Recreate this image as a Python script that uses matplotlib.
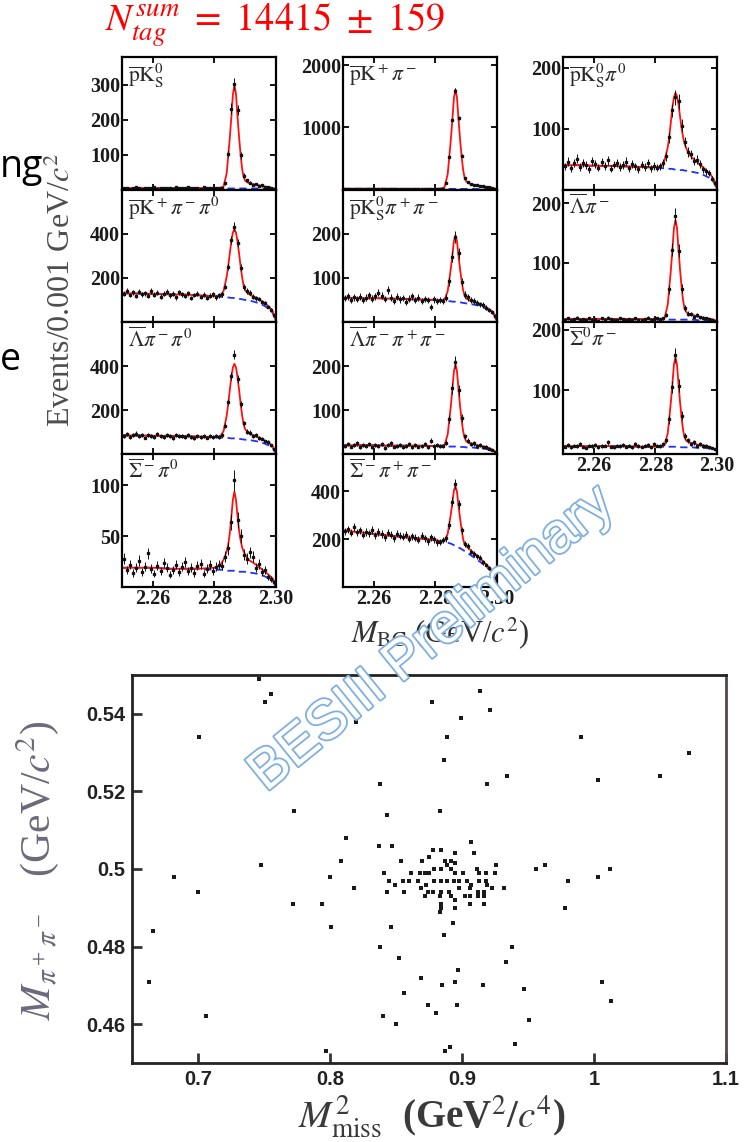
import numpy as np
import matplotlib
matplotlib.use("Agg")
import matplotlib.pyplot as plt
import matplotlib.patheffects as pe

plt.rcParams['mathtext.fontset'] = 'stix'
plt.rcParams['font.family'] = ['Liberation Serif', 'DejaVu Sans']

W, H = 750, 1142

# M_BC histogram bins: 0.001 GeV/c^2 from 2.25 to 2.30
mbc = np.linspace(2.2505, 2.2995, 50)

fit_x = [2.250, 2.255, 2.260, 2.265, 2.270, 2.275, 2.280, 2.281, 2.282, 2.283,
         2.284, 2.2845, 2.285, 2.2855, 2.286, 2.2865, 2.287, 2.2875, 2.288, 2.2885,
         2.289, 2.2895, 2.290, 2.291, 2.292, 2.294, 2.296, 2.298, 2.299, 2.300]

# pbar K_S0
data_A = [3, 5, 2, 4, 6, 3, 2, 5, 4, 3, 6, 2, 4, 5, 3, 4, 2, 6, 5, 3, 4, 7, 3, 5, 4, 2, 6, 4, 3, 5,
          4, 4, 5, 18, 102, 232, 302, 228, 98, 40, 26, 20, 14, 16, 10, 12, 7, 8, 5, 2]
bkg_A = [4, 4, 4, 4, 4, 4, 4, 4, 4, 3, 3, 3, 3, 3, 3, 3, 3, 3, 3, 3, 3, 3, 3, 3, 3, 3, 2, 2, 1, 0]
fit_A = [4, 4, 4, 4, 4, 4, 4, 4, 5, 9, 47, 98, 148, 207, 272, 299, 275, 210, 151, 101,
         59, 36, 25, 19, 16, 13, 9, 6, 4, 1]

# pbar K+ pi- pi0
data_B = [128, 141, 122, 135, 118, 137, 126, 131, 119, 140, 124, 133, 115, 129, 138, 121, 127, 112, 134, 125,
          118, 130, 109, 122, 127, 113, 124, 108, 119, 126, 112, 121, 125, 160, 250, 372, 432, 358, 246, 158,
          140, 132, 114, 107, 104, 90, 86, 70, 55, 32]
bkg_B = [130, 129, 127, 125, 124, 121, 117, 116, 114, 113, 112, 111, 110, 109, 109, 108, 107, 106, 105, 104,
         103, 101, 100, 97, 95, 87, 75, 57, 40, 0]
fit_B = [130, 129, 127, 125, 124, 121, 117, 117, 120, 141, 206, 255, 311, 365, 405, 420, 405, 365, 311, 254,
         203, 163, 144, 128, 120, 106, 89, 66, 46, 2]

# Lambdabar pi- pi0
data_C = [84, 90, 78, 86, 93, 80, 85, 75, 88, 82, 79, 91, 84, 77, 86, 81, 74, 88, 80, 83,
          76, 85, 79, 72, 84, 78, 81, 75, 83, 77, 80, 79, 85, 128, 236, 355, 452, 340, 228, 140,
          102, 97, 84, 85, 72, 70, 58, 55, 40, 23]
bkg_C = [85, 84, 83, 82, 81, 79, 77, 76, 75, 74, 73, 73, 72, 71, 71, 71, 70, 69, 69, 68,
         67, 66, 65, 64, 62, 57, 49, 37, 26, 0]
fit_C = [85, 84, 83, 82, 81, 79, 77, 77, 82, 105, 175, 229, 291, 349, 393, 410, 394, 350, 293, 231,
         175, 134, 112, 98, 89, 77, 64, 47, 33, 3]

# Sigmabar- pi0
data_D = [28, 17, 22, 14, 19, 26, 15, 20, 33, 18, 13, 21, 16, 24, 19, 12, 17, 22, 15, 20,
          25, 16, 19, 14, 21, 23, 13, 18, 22, 16, 20, 22, 21, 30, 38, 64, 105, 66, 50, 32,
          28, 34, 30, 19, 23, 15, 17, 10, 8, 5]
bkg_D = [19, 19, 19, 18, 18, 18, 17, 17, 17, 17, 16, 16, 16, 16, 16, 16, 16, 15, 15, 15,
         15, 15, 15, 14, 14, 13, 11, 8, 6, 0]
fit_D = [19, 19, 19, 18, 18, 18, 19, 20, 22, 27, 35, 42, 53, 69, 86, 94, 86, 70, 56, 46,
         39, 35, 32, 27, 25, 21, 16, 11, 8, 1]

# pbar K+ pi-
data_E = [10, 14, 9, 13, 12, 16, 11, 8, 13, 12, 15, 10, 12, 9, 14, 11, 13, 10, 8, 12,
          11, 14, 9, 10, 12, 8, 11, 13, 9, 10, 12, 11, 16, 98, 530, 1120, 1590, 1150, 545, 190,
          118, 85, 72, 68, 55, 50, 38, 34, 22, 12]
bkg_E = [12, 12, 12, 12, 11, 11, 11, 11, 11, 10, 10, 10, 10, 10, 10, 10, 10, 10, 10, 10,
         9, 9, 9, 9, 9, 8, 7, 5, 4, 0]
fit_E = [12, 12, 12, 12, 11, 11, 11, 13, 17, 42, 250, 522, 794, 1114, 1466, 1610, 1482, 1130, 810, 538,
         314, 185, 129, 97, 81, 61, 45, 29, 20, 6]

# pbar K_S0 pi+ pi-
data_F = [54, 58, 50, 56, 52, 57, 49, 55, 61, 53, 58, 66, 60, 52, 72, 55, 48, 57, 51, 54,
          46, 53, 58, 50, 55, 47, 52, 49, 34, 51, 48, 49, 48, 55, 92, 148, 192, 156, 90, 62,
          56, 50, 47, 44, 40, 39, 32, 27, 22, 14]
bkg_F = [55, 54, 54, 53, 52, 51, 50, 49, 48, 48, 47, 47, 47, 46, 46, 46, 45, 45, 45, 44,
         43, 43, 42, 41, 40, 37, 32, 24, 17, 0]
fit_F = [55, 54, 54, 53, 52, 51, 50, 49, 49, 51, 70, 95, 121, 150, 183, 196, 183, 150, 120, 94,
         72, 60, 53, 49, 47, 42, 36, 26, 19, 1]

# Lambdabar pi- pi+ pi-
data_G = [18, 22, 17, 21, 24, 16, 20, 19, 23, 15, 21, 18, 22, 14, 20, 24, 17, 19, 21, 16,
          18, 23, 15, 20, 17, 19, 22, 16, 30, 18, 20, 19, 18, 26, 80, 150, 210, 145, 82, 40,
          30, 22, 24, 19, 20, 15, 16, 12, 9, 5]
bkg_G = [20, 20, 20, 19, 19, 19, 18, 18, 18, 17, 17, 17, 17, 17, 17, 17, 16, 16, 16, 16,
         16, 16, 15, 15, 15, 13, 12, 9, 6, 0]
fit_G = [20, 20, 20, 19, 19, 19, 18, 18, 19, 21, 45, 77, 109, 147, 188, 205, 189, 148, 110, 78,
         52, 37, 29, 25, 23, 19, 17, 12, 8, 1]

# Sigmabar- pi+ pi-
data_H = [232, 241, 226, 250, 228, 236, 219, 230, 224, 238, 215, 229, 221, 207, 226, 218, 204, 222, 213, 209,
          218, 201, 211, 205, 198, 214, 203, 190, 208, 199, 186, 188, 196, 203, 258, 356, 430, 345, 236, 180,
          170, 148, 138, 128, 122, 104, 92, 80, 60, 38]
bkg_H = [236, 229, 222, 214, 208, 202, 195, 193, 191, 188, 185, 183, 181, 178, 175, 172, 169, 165, 162, 158,
         154, 150, 146, 137, 128, 110, 90, 68, 50, 0]
fit_H = [236, 229, 222, 214, 208, 202, 195, 193, 192, 193, 222, 263, 303, 350, 402, 421, 398, 339, 287, 240,
         201, 177, 171, 159, 147, 126, 100, 74, 52, 1]

# pbar K_S0 pi0
data_I = [38, 46, 35, 43, 51, 37, 44, 40, 33, 47, 42, 36, 45, 39, 48, 34, 41, 44, 37, 40,
          46, 35, 42, 38, 33, 41, 37, 43, 35, 39, 36, 38, 44, 55, 86, 130, 152, 145, 105, 78,
          62, 58, 47, 49, 42, 33, 30, 27, 18, 10]
bkg_I = [40, 40, 39, 39, 38, 37, 36, 36, 35, 35, 34, 34, 34, 34, 33, 33, 33, 33, 32, 32,
         32, 31, 31, 30, 29, 27, 23, 18, 12, 0]
fit_I = [40, 40, 39, 39, 38, 37, 37, 37, 39, 48, 69, 87, 110, 135, 151, 159, 154, 140, 120, 101,
         86, 75, 68, 58, 52, 43, 34, 24, 16, 1]

# Lambdabar pi-
data_J = [4, 6, 3, 5, 7, 4, 5, 3, 6, 4, 5, 2, 6, 4, 7, 5, 3, 4, 6, 5,
          3, 5, 4, 6, 4, 3, 5, 7, 4, 5, 6, 5, 6, 12, 55, 122, 178, 120, 56, 24,
          14, 13, 9, 11, 8, 7, 6, 5, 3, 2]
bkg_J = [5, 5, 5, 5, 5, 5, 5, 4, 4, 4, 4, 4, 4, 4, 4, 4, 4, 4, 4, 4, 4, 4, 4, 4, 4, 3, 3, 2, 2, 0]
fit_J = [5, 5, 5, 5, 5, 5, 5, 4, 5, 7, 29, 58, 86, 120, 157, 172, 159, 122, 88, 59,
         36, 22, 17, 13, 12, 9, 7, 5, 4, 1]

# Sigmabar0 pi-
data_K = [7, 10, 6, 9, 8, 12, 7, 5, 9, 8, 10, 6, 8, 9, 14, 7, 6, 9, 8, 10,
          7, 9, 6, 11, 8, 7, 9, 10, 6, 12, 9, 8, 11, 18, 52, 106, 158, 108, 58, 25,
          18, 12, 14, 9, 11, 8, 9, 6, 5, 3]
bkg_K = [8, 8, 8, 8, 8, 7, 7, 7, 7, 7, 7, 7, 7, 7, 7, 7, 7, 7, 7, 6, 6, 6, 6, 6, 6, 5, 5, 4, 2, 0]
fit_K = [8, 8, 8, 8, 8, 7, 7, 7, 8, 10, 29, 54, 80, 109, 142, 155, 143, 111, 81, 55,
         34, 22, 17, 14, 13, 10, 9, 6, 3, 1]

# (column, row, label, data, fit, bkg, ylim, yticks)
panels = [
    (0, 0, r'$\overline{\mathrm{p}}\mathrm{K}^0_\mathrm{S}$', data_A, fit_A, bkg_A, (0, 380), [100, 200, 300]),
    (0, 1, r'$\overline{\mathrm{p}}\mathrm{K}^+\pi^-\pi^0$', data_B, fit_B, bkg_B, (0, 600), [200, 400]),
    (0, 2, r'$\overline{\Lambda}\pi^-\pi^0$', data_C, fit_C, bkg_C, (0, 600), [200, 400]),
    (0, 3, r'$\overline{\Sigma}^-\pi^0$', data_D, fit_D, bkg_D, (0, 131), [50, 100]),
    (1, 0, r'$\overline{\mathrm{p}}\mathrm{K}^+\pi^-$', data_E, fit_E, bkg_E, (0, 2130), [1000, 2000]),
    (1, 1, r'$\overline{\mathrm{p}}\mathrm{K}^0_\mathrm{S}\pi^+\pi^-$', data_F, fit_F, bkg_F, (0, 300), [100, 200]),
    (1, 2, r'$\overline{\Lambda}\pi^-\pi^+\pi^-$', data_G, fit_G, bkg_G, (0, 301), [100, 200]),
    (1, 3, r'$\overline{\Sigma}^-\pi^+\pi^-$', data_H, fit_H, bkg_H, (0, 555), [200, 400]),
    (2, 0, r'$\overline{\mathrm{p}}\mathrm{K}^0_\mathrm{S}\pi^0$', data_I, fit_I, bkg_I, (0, 218), [100, 200]),
    (2, 1, r'$\overline{\Lambda}\pi^-$', data_J, fit_J, bkg_J, (0, 223), [100, 200]),
    (2, 2, r'$\overline{\Sigma}^0\pi^-$', data_K, fit_K, bkg_K, (-5, 213), [100, 200]),
]
last_row = {0: 3, 1: 3, 2: 2}

# M^2_miss vs M_pi+pi- candidates
miss2 = [0.746, 0.755, 0.751, 0.701, 0.820, 0.838, 0.773, 0.843, 0.812, 0.837, 0.847, 0.808, 0.748,
         0.682, 0.800, 0.818, 0.700, 0.841, 0.845, 0.849, 0.843, 0.772, 0.794, 0.801, 0.846, 0.666,
         0.838, 0.852, 0.663, 0.706, 0.840, 0.850, 0.797,
         0.914, 0.877, 0.921, 0.899, 0.889, 0.990, 1.072, 0.886, 0.934, 1.050, 1.003, 0.919, 0.883,
         0.907, 0.878, 0.884, 0.895, 0.909, 0.854, 0.956, 0.963, 1.012, 0.980, 1.003, 0.978, 0.932,
         0.923, 0.893, 0.886, 0.938, 0.933, 0.897, 0.869, 0.885, 0.895, 0.916, 1.006, 0.947, 0.856,
         1.013, 0.896, 0.874, 0.880, 0.951, 0.940, 0.891, 0.887,
         0.870, 0.875, 0.887, 0.892, 0.895, 0.926,
         0.861, 0.868, 0.872, 0.875, 0.879, 0.884, 0.889, 0.892, 0.895, 0.901, 0.911, 0.913, 0.918, 0.925,
         0.855, 0.860, 0.867, 0.873, 0.879, 0.884, 0.889, 0.894, 0.898, 0.904, 0.907, 0.913, 0.918, 0.919,
         0.856, 0.869, 0.874, 0.878, 0.884, 0.890, 0.898, 0.906, 0.912, 0.917,
         0.872, 0.883, 0.892, 0.902, 0.906, 0.912, 0.917,
         0.884, 0.895, 0.906, 0.917, 0.884, 0.895, 0.883]
mpipi = [0.549, 0.545, 0.543, 0.534, 0.538, 0.522, 0.515, 0.514, 0.508, 0.506, 0.506, 0.502, 0.501,
         0.498, 0.498, 0.495, 0.494, 0.499, 0.497, 0.496, 0.494, 0.491, 0.491, 0.485, 0.485, 0.484,
         0.480, 0.477, 0.471, 0.462, 0.462, 0.460, 0.453,
         0.546, 0.543, 0.541, 0.539, 0.534, 0.534, 0.530, 0.528, 0.524, 0.524, 0.523, 0.522, 0.515,
         0.507, 0.505, 0.505, 0.504, 0.504, 0.502, 0.500, 0.501, 0.500, 0.497, 0.498, 0.490, 0.495,
         0.495, 0.486, 0.483, 0.480, 0.476, 0.474, 0.472, 0.470, 0.471, 0.470, 0.471, 0.469, 0.468,
         0.466, 0.465, 0.465, 0.463, 0.461, 0.455, 0.454, 0.453,
         0.502, 0.503, 0.502, 0.502, 0.5015, 0.501,
         0.499, 0.499, 0.499, 0.499, 0.500, 0.500, 0.501, 0.500, 0.499, 0.499, 0.500, 0.499, 0.499, 0.499,
         0.497, 0.497, 0.497, 0.496, 0.497, 0.497, 0.497, 0.497, 0.497, 0.497, 0.496, 0.497, 0.497, 0.496,
         0.494, 0.495, 0.494, 0.494, 0.494, 0.494, 0.495, 0.495, 0.494, 0.494,
         0.493, 0.493, 0.493, 0.493, 0.493, 0.493, 0.493,
         0.491, 0.492, 0.491, 0.491, 0.490, 0.490, 0.489]


def rect(x0, y0, x1, y1):
    return [x0 / W, 1 - y1 / H, (x1 - x0) / W, (y1 - y0) / H]


fig = plt.figure(figsize=(W / 100, H / 100), dpi=100)
fig.patch.set_facecolor('white')

col_x = [122, 343, 563]
row_y = [57, 189.5, 322, 454, 587]
tick_font = dict(family='Liberation Serif', fontweight='bold', fontsize=14.5, color='#1a1a1a')

for col, row, label, data, fit, bkg, ylim, yticks in panels:
    ax = fig.add_axes(rect(col_x[col], row_y[row], col_x[col] + 154, row_y[row + 1]))
    ax.plot(fit_x, bkg, color='#2030ff', lw=1.3, ls=(0, (4, 2.5)))
    ax.plot(fit_x, fit, color='#ff1010', lw=1.3)
    ax.errorbar(mbc, data, yerr=np.sqrt(data), fmt='s', ms=1.8, color='#111111',
                elinewidth=0.7, capsize=0, zorder=3)
    ax.set_xlim(2.25, 2.30)
    ax.set_ylim(*ylim)
    ax.set_xticks([2.26, 2.28, 2.30])
    ax.set_xticklabels(['2.26', '2.28', '2.30'], **tick_font)
    ax.set_yticks(yticks)
    ax.set_yticklabels([str(v) for v in yticks], **tick_font)
    ax.tick_params(direction='in', top=True, right=True, length=4, width=1.3,
                   pad=1.5, labelbottom=(row == last_row[col]))
    for s in ax.spines.values():
        s.set_linewidth(1.6)
    ax.text(0.04, 0.96, label, transform=ax.transAxes, ha='left', va='top',
            fontsize=15.5, color='#2a2a2a')

fig.text(105 / W, 1 - 25 / H, r'$N_{tag}^{sum}\ =\ 14415\ \pm\ 159$', color='#ff0000',
         fontsize=27.5, ha='left', va='center')
fig.text(62 / W, 1 - 290 / H, r'Events/0.001 GeV/$c^2$', rotation=90, fontsize=23,
         color='#4d4d4d', ha='center', va='center')
fig.text(440 / W, 1 - 633 / H, r'$M_{\mathrm{BC}}$ (GeV/$c^2$)', fontsize=22,
         color='#333333', ha='center', va='center')

# cut-off slide text on the left
fig.text(0, 1 - 177 / H, 'ng', fontsize=27, family='Open Sans', ha='left', va='baseline')
fig.text(0, 1 - 370 / H, 'e', fontsize=27, family='Open Sans', ha='left', va='baseline')

# scatter plot
ax2 = fig.add_axes(rect(132, 675, 726, 1063))
ax2.scatter(miss2, mpipi, marker='s', s=5, c='#1a1a1a', linewidths=0)
ax2.set_xlim(0.65, 1.1)
ax2.set_ylim(0.45, 0.55)
sc_font = dict(family='Liberation Sans', fontweight='bold', fontsize=14.5, color='#222222')
ax2.set_xticks([0.7, 0.8, 0.9, 1.0, 1.1])
ax2.set_xticklabels(['0.7', '0.8', '0.9', '1', '1.1'], **sc_font)
ax2.set_yticks([0.46, 0.48, 0.50, 0.52, 0.54])
ax2.set_yticklabels(['0.46', '0.48', '0.5', '0.52', '0.54'], **sc_font)
ax2.tick_params(direction='in', length=7, width=2, color='#333333', pad=5)
for s in ax2.spines.values():
    s.set_linewidth(2)
    s.set_color('#222222')
ax2.spines['right'].set_color('#5a4444')

fig.text(38 / W, 1 - 870 / H, r'$M_{\pi^+\pi^-}$   (GeV/$c^2$)', rotation=90, fontsize=30,
         color='#6a6a7a', ha='center', va='center')
fig.text(432 / W, 1 - 1117 / H, r'$M^2_{\mathrm{miss}}$  (GeV$^2$/$c^4$)', fontsize=28,
         color='#3a3a3a', ha='center', va='center', fontweight='bold')

# watermark
fig.text(432 / W, 1 - 640 / H, 'BESIII Preliminary', rotation=39, fontsize=40,
         family='Liberation Sans', color='white', ha='center', va='center', zorder=10,
         path_effects=[pe.withStroke(linewidth=2.6, foreground='#7fb0e0')])

fig.savefig('out.png', dpi=100, facecolor='white')
